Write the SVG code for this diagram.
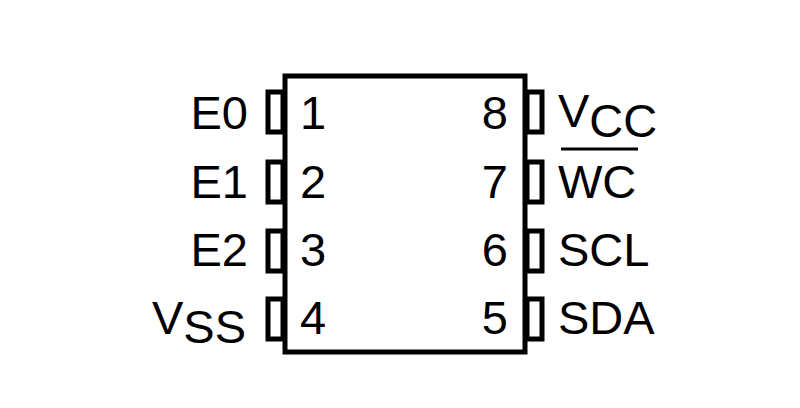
<svg xmlns="http://www.w3.org/2000/svg" width="800" height="408" viewBox="0 0 800 408">
<style>
.b{fill:none;stroke:#000;stroke-width:5}
.p{fill:#fff;stroke:#000;stroke-width:5}
text{font-family:"Liberation Sans",Arial,sans-serif;font-size:47px;fill:#000}
.r{text-anchor:end}
</style>
<rect width="800" height="408" fill="#fff"/>
<g id="body"><rect class="b" x="285" y="76" width="240" height="276"/></g>
<g id="pins">
<rect class="p" x="268" y="92" width="15" height="40"/>
<rect class="p" x="268" y="162" width="15" height="40"/>
<rect class="p" x="268" y="231" width="15" height="40"/>
<rect class="p" x="268" y="299" width="15" height="40"/>
<rect class="p" x="527" y="92" width="15" height="40"/>
<rect class="p" x="527" y="162" width="15" height="40"/>
<rect class="p" x="527" y="231" width="15" height="40"/>
<rect class="p" x="527" y="299" width="15" height="40"/>
</g>
<g id="labels">
<text class="r" x="248" y="129">E0</text>
<text class="r" x="248" y="198">E1</text>
<text class="r" x="248" y="266">E2</text>
<text x="152" y="334">V<tspan dy="9">SS</tspan></text>
<text x="300" y="129">1</text>
<text x="300" y="198">2</text>
<text x="300" y="266">3</text>
<text x="300" y="334">4</text>
<text class="r" x="508" y="129">8</text>
<text class="r" x="508" y="198">7</text>
<text class="r" x="508" y="266">6</text>
<text class="r" x="508" y="334">5</text>
<text x="558" y="127">V<tspan dy="10">CC</tspan></text>
<line x1="561" y1="149" x2="638" y2="149" stroke="#000" stroke-width="3"/>
<text x="558" y="198">WC</text>
<text x="558" y="266">SCL</text>
<text x="558" y="334">SDA</text>
</g>
</svg>
